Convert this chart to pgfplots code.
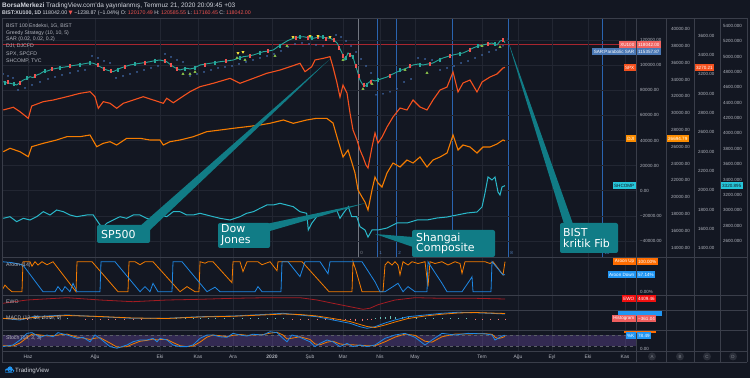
\documentclass[border=0pt]{standalone}
\usepackage{pgfplots}
\pgfplotsset{compat=1.18}
\usepackage{fontspec}
\setmainfont{Liberation Sans}
\newfontfamily\dv{DejaVu Sans}
\newcommand\fs[1]{\fontsize{#1}{#1}\selectfont}
\definecolor{bg}{HTML}{131722}
\definecolor{gridc}{HTML}{222632}
\definecolor{sepc}{HTML}{3a3e4a}
\definecolor{lbl}{HTML}{b2b5be}
\definecolor{txt}{HTML}{d1d4dc}
\definecolor{upc}{HTML}{26a69a}
\definecolor{dnc}{HTML}{ef5350}
\definecolor{sarc}{HTML}{4570b5}
\definecolor{spxc}{HTML}{f4511e}
\definecolor{djic}{HTML}{f57c00}
\definecolor{shc}{HTML}{2ab7c9}
\definecolor{aupc}{HTML}{f57c00}
\definecolor{adnc}{HTML}{1e88e5}
\definecolor{ewoc}{HTML}{a31c22}
\definecolor{bandc}{HTML}{7e57c2}
\definecolor{fibc}{HTML}{2a64b0}
\definecolor{callc}{HTML}{117c86}
\definecolor{pricel}{HTML}{a8262f}
\definecolor{yel}{HTML}{ffeb3b}
\definecolor{grn}{HTML}{8bc34a}
\definecolor{sartag}{HTML}{4a78b5}
\definecolor{djitag}{HTML}{fb8c00}
\definecolor{shtag}{HTML}{26c6da}
\definecolor{orgtag}{HTML}{ff6d00}
\definecolor{bluetag}{HTML}{2196f3}
\definecolor{ewotag}{HTML}{f01010}
\definecolor{histag}{HTML}{ef5e5e}
\definecolor{circc}{HTML}{2a2e39}
\pgfplotsset{
  panel/.style={scale only axis, anchor=south west, width=634bp,
    xmin=2, xmax=636, axis line style={draw=none}, major tick length=0pt,
    scaled y ticks=false, scaled x ticks=false,
    xtick={28,95,160,198,233,272,310,343,380,415,482,518,552,588,625},
    xticklabels={}, xmajorgrids, grid style={draw=gridc, line width=0.5bp},
    ytick=\empty, yticklabel pos=right,
    yticklabel style={font=\fs{4.5}, text=lbl, anchor=west, inner sep=0pt, xshift=4bp}},
  over/.style={scale only axis, anchor=south west, width=634bp,
    xmin=2, xmax=636, axis line style={draw=none}, major tick length=0pt,
    scaled y ticks=false, scaled x ticks=false,
    xtick=\empty, yticklabel pos=right,
    yticklabel style={font=\fs{4.5}, text=lbl, anchor=west, inner sep=0pt}},
}
\newcommand\ptag[6]{%
  \node[fill=#2,text=#3,font=\fs{4.6},inner xsep=1.5bp,inner ysep=0bp,minimum height=7bp,anchor=east] at (636,#1) {#4};
  \node[fill=#2,text=#3,font=\fs{4.6},inner xsep=1.5bp,inner ysep=0bp,minimum height=7bp,anchor=west] at (#5,#1) {#6};}
\begin{document}
\begin{tikzpicture}
\fill[bg] (0,0) rectangle (750bp,378bp);
\begin{scope}[x=1bp,y=-1bp,shift={(0,378bp)}]
  \draw[draw=lbl!60!bg, line width=0.6bp] (358,18) -- (358,257);
  \foreach \xx in {377,396,415,452,508,602} \draw[draw=fibc, line width=0.6bp] (\xx,18) -- (\xx,257);
  \draw[draw=pricel, line width=0.5bp] (2,44) -- (636,44);
\end{scope}

\begin{axis}[panel, at={(2bp,121bp)}, height=239bp, ymin=-52828, ymax=137607,
  ytick={-40000,-20000,0,20000,40000,60000,80000,100000,120000},
  yticklabels={−40000.00,−20000.00,0.00,20000.00,40000.00,60000.00,80000.00,100000.00,120000.00},
  ymajorgrids]
\addplot[sarc, only marks, mark=*, mark size=0.5bp] coordinates {
(3,92986)(8,91392)(13,89799)(18,80238)(25,81831)(32,84222)(40,86612)(48,89002)(55,90596)(62,92190)(70,93783)(78,95377)(85,96174)
(92,107328)(98,105735)(104,103344)(110,101751)
(116,89799)(123,91392)(130,92986)(137,94580)(144,96174)(151,97767)(158,99361)
(165,108923)(171,106532)(177,104142)(183,102548)
(190,91392)(197,92986)(204,94580)(211,96174)(218,97767)(225,98564)(232,99361)(239,100955)(246,102548)(253,104142)(260,105735)(267,107328)(274,108923)(281,111313)(288,114500)(295,116891)(302,117687)(309,116891)(316,116094)(323,115297)
(336,124060)(341,122467)(346,119281)(351,115297)(356,110516)(361,104939)(366,99361)(371,93783)
(376,76336)(383,77133)(390,78727)(397,81117)(404,86612)(411,89002)
(418,105735)(425,104939)(432,104142)
(440,96174)(447,97767)(454,99361)(461,101751)(468,103344)(475,105735)(482,108126)(489,110516)(496,112110)(503,115357)};
\addplot[upc, line width=0.9bp] coordinates {
(3,86850)(7,85900)(10,85580)(14,84900)(16.7,84220)(20,86200)(23.3,88210)(27,89300)(30,90840)(33,90100)(36.7,92190)(40,93100)(43.3,94820)(47,95300)(50,96170)(53,96900)(56.7,97530)(62,98200)(66.7,98800)(72,99600)(76.7,100160)(82,100800)(86.7,101510)(90,101900)(93.3,101510)(97,100300)(100,98800)(103,97600)(106.7,96170)(110,95400)(113.3,94820)(117,96300)(120,97530)(125,98900)(130,100160)(135,100900)(140,101510)(145,102100)(150,102790)(155,103600)(160,104140)(163,103600)(166.7,102790)(170,100700)(173.3,98800)(177,97200)(180,96170)(183,96900)(186.7,97530)(190,97000)(193.3,97530)(197,98900)(200,100160)(205,100900)(210,101510)(215,102100)(220,102790)(226,103300)(233.3,104140)(238,105400)(243.3,106770)(248,107300)(253.3,108130)(258,109400)(263.3,110760)(268,111200)(273.3,112110)(278,114800)(283.3,117450)(288,119700)(293.3,121430)(298,122300)(303.3,122710)(308,122000)(313.3,121430)(317,122100)(320,122710)(325,122000)(330,121430)(334,120100)(337,117690)(340,113000)(342,109720)(345,104140)(348,109720)(350,108600)(353,106530)(355,101000)(357,96170)(360,88210)(363,84220)(366,83430)(368,85820)(370,86900)(372,88210)(375,87400)(378,88210)(382,89300)(387,90600)(392,92700)(397,94580)(402,96300)(407,97770)(410,99000)(413,100160)(418,100900)(423,100160)(428,101000)(433,101750)(438,103900)(443,105740)(448,107000)(453,108130)(458,109000)(463,109720)(468,111500)(473,113700)(478,115200)(483,116090)(488,117100)(492,117690)(497,116090)(500,119280)(503,120000)(505,118042)};
\addplot[dnc, only marks, mark=|, mark size=2bp, line width=1.1bp] coordinates {
(8,86500)(20,86000)(35,91500)(52,96800)(70,99200)(98,100000)(104,97000)(111,95500)(125,98500)(145,102000)(165,103500)(171,100500)(177,97200)(205,100500)(226,103000)(250,107500)(268,111000)(296,121500)(308,122000)(318,122200)(326,121000)(334,119800)(339,114000)(343,107000)(350,108500)(356,99000)(359,91000)(364,84500)(371,87000)(390,91500)(410,99000)(430,101200)(450,107500)(470,112500)(488,117000)(503,120000)};
\addplot[upc, only marks, mark=|, mark size=2bp, line width=1.1bp] coordinates {
(5,86000)(14,85000)(27,89500)(45,95200)(60,98000)(80,100500)(90,101800)(118,96500)(135,100800)(155,103500)(185,97000)(195,97800)(215,102000)(240,106000)(260,110000)(280,115500)(300,122500)(312,121800)(323,122400)(346,106000)(353,106500)(367,84000)(378,88500)(400,95800)(420,100500)(440,104500)(460,109200)(478,115000)(495,116800)};
\addplot[yel, only marks, mark=triangle*, mark size=1.3bp, mark options={rotate=180}] coordinates {
(238,109720)(243,110520)(293,122470)(310,123270)(318,123270)(330,122470)};
\addplot[grn, only marks, mark=triangle*, mark size=1.3bp] coordinates {
(183,92990)(190,92990)(195,94580)(237,105740)(245,104140)(275,107330)(287,115300)(343,104140)(363,81030)(372,85020)(405,96170)(427,93780)(482,115300)(500,114500)};
\end{axis}

\begin{axis}[over, at={(2bp,121bp)}, height=239bp, ymin=12891, ymax=41308,
  ytick={14000,16000,18000,20000,22000,24000,26000,28000,30000,32000,34000,36000,38000,40000},
  yticklabels={14000.00,16000.00,18000.00,20000.00,22000.00,24000.00,26000.00,28000.00,30000.00,32000.00,34000.00,36000.00,38000.00,40000.00},
  yticklabel style={xshift=35bp}]
\addplot[djic, line width=1.1bp] coordinates {
(3.3,25411)(10,25815)(20,25411)(28.3,24816)(31.7,26005)(43.3,26410)(56.7,26802)(66.7,27195)(80,27195)(90,27397)(96.7,26005)(103.3,26410)(110,26600)(116.7,26208)(126.7,27004)(140,27004)(150,26802)(160,26802)(163.3,26208)(170,26600)(180,26802)(193.3,27195)(206.7,27789)(220,27987)(233.3,28193)(246.7,28383)(260,28586)(270,28788)(283.3,29180)(293.3,28788)(306.7,29180)(316.7,29382)(326.7,29382)(333,28823)(337,27159)(340,25970)(343,24781)(348,25613)(352,24067)(355,22878)(358,20857)(362,20024)(365,19430)(368,18479)(372,20857)(375,22403)(378,21689)(382,21214)(387,22878)(393,24067)(400,23592)(407,24424)(413,24067)(420,24781)(427,23592)(433,24424)(440,24781)(447,25256)(453,27397)(458,25613)(463,26208)(470,25970)(477,25256)(483,25970)(490,25970)(497,26327)(503,26802)(505,26695)};
\end{axis}

\begin{axis}[over, at={(2bp,121bp)}, height=239bp, ymin=1310, ymax=3781,
  ytick={1400,1600,1800,2000,2200,2400,2600,2800,3000,3200,3400,3600},
  yticklabels={1400.00,1600.00,1800.00,2000.00,2200.00,2400.00,2600.00,2800.00,3000.00,3200.00,3400.00,3600.00},
  yticklabel style={xshift=62bp}]
\addplot[spxc, line width=1.1bp] coordinates {
(3.3,2830)(13.3,2858)(20,2812)(28.3,2744)(31.7,2871)(43.3,2916)(53.3,2933)(66.7,2967)(80,3002)(90,3019)(95,2967)(98.3,2847)(103.3,2916)(110,2899)(116.7,2847)(123.3,2899)(133.3,2933)(143.3,2967)(153.3,2933)(163.3,2899)(166.7,2951)(173.3,2905)(180,2951)(190,3019)(200,3071)(213.3,3106)(230,3157)(240,3106)(253.3,3157)(266.7,3209)(280,3243)(290,3277)(300,3313)(305,3226)(311.7,3277)(315,3347)(323.3,3364)(330,3381)(333,3274)(337,3109)(340,2964)(343,3088)(347,3005)(350,2799)(353,2623)(357,2519)(360,2416)(363,2344)(366,2261)(368,2230)(372,2447)(375,2592)(378,2488)(382,2550)(387,2654)(393,2757)(400,2850)(407,2830)(413,2933)(420,2861)(427,2830)(433,2933)(440,3036)(447,3067)(453,3223)(458,3016)(463,3109)(470,3140)(477,3016)(482,3119)(490,3171)(497,3202)(503,3264)(505,3270)};
\end{axis}

\begin{axis}[over, at={(2bp,121bp)}, height=239bp, ymin=2393, ymax=5500,
  ytick={2600,2800,3000,3200,3400,3600,3800,4000,4200,4400,4600,4800,5000,5200,5400},
  yticklabels={2600.000,2800.000,3000.000,3200.000,3400.000,3600.000,3800.000,4000.000,4200.000,4400.000,4600.000,4800.000,5000.000,5200.000,5400.000},
  yticklabel style={xshift=87bp}]
\addplot[shc, line width=1bp] coordinates {
(3.3,2896)(10,2917)(16.7,2852)(23.3,2896)(30,2874)(36.7,2917)(43.3,2982)(50,2939)(56.7,3004)(63.3,2982)(70,2939)(76.7,2917)(86.7,2939)(93.3,2939)(100,2809)(103.3,2787)(106.7,2831)(113.3,2874)(120,2917)(126.7,2896)(133.3,2939)(140,2939)(146.7,2896)(153.3,2874)(160,2939)(166.7,2917)(173.3,2982)(180,2982)(186.7,2939)(193.3,2939)(200,2961)(206.7,2939)(213.3,2917)(220,2896)(230,2874)(240,2917)(246.7,2961)(253.3,2982)(260,3026)(266.7,3069)(273.3,3069)(280,3091)(286.7,3069)(293.3,3047)(300,2982)(306.7,2961)(308.3,2744)(311.7,2831)(316.7,2917)(323.3,2961)(330,2982)(336.7,3004)(340,2896)(343.3,2961)(348.3,3047)(351.7,2917)(356.7,2917)(360,2787)(365,2744)(368,2651)(372,2744)(378,2744)(387,2770)(397,2835)(407,2835)(417,2874)(427,2874)(437,2900)(447,2913)(457,2939)(467,2965)(477,2978)(482,3043)(485,3225)(488,3433)(492,3394)(495,3433)(498,3238)(500,3199)(502,3303)(505,3321)};
\end{axis}

\begin{axis}[panel, at={(2bp,83bp)}, height=38bp, ymin=-11, ymax=115.7,
  ytick={0}, yticklabels={0.00\%}]
\addplot[aupc, line width=0.8bp] coordinates {
(2,5)(5,22)(8,11)(12,0)(22,0)(23,100)(30,100)(32,85)(35,100)(38,89)(42,100)(47,90)(53,100)(76,0)(77,100)(92,100)(118,0)(128,0)(129,100)(135,100)(140,90)(145,100)(153,100)(180,0)(187,17)(195,0)(199,0)(200,100)(205,95)(208,100)(213,100)(232,30)(233,100)(240,100)(243,67)(247,100)(258,100)(262,90)(270,100)(277,70)(278,100)(290,100)(302,100)(329,0)(352,0)(353,100)(356,70)(362,0)(383,0)(385,89)(388,100)(392,89)(395,100)(398,89)(400,56)(403,100)(408,89)(412,100)(418,94)(425,100)(428,17)(430,100)(435,94)(442,100)(448,89)(455,100)(460,94)(462,61)(465,100)(475,100)(485,100)(490,94)(493,100)(498,78)(503,56)(505,100)};
\addplot[adnc, line width=0.8bp] coordinates {
(2,100)(12,97)(23,89)(43,0)(55,0)(58,17)(62,0)(65,17)(70,0)(73,28)(77,0)(100,0)(101,100)(115,100)(140,0)(145,17)(150,0)(153,28)(158,0)(172,0)(173,100)(182,100)(207,0)(215,15)(220,0)(255,0)(258,17)(262,0)(281,0)(282,100)(288,100)(300,50)(305,100)(320,100)(328,60)(330,100)(362,100)(375,33)(380,0)(385,0)(393,17)(398,28)(403,0)(408,17)(415,0)(427,0)(428,100)(430,89)(442,28)(447,0)(462,0)(470,39)(472,50)(473,0)(491,0)(492,100)(503,56)(505,57)};
\end{axis}

\begin{axis}[panel, at={(2bp,68bp)}, height=15bp, ymin=-17591, ymax=12409]
\addplot[ewoc, line width=0.8bp] coordinates {
(3,-4191)(27,2409)(67,7009)(100,2409)(133,-991)(167,2409)(200,3809)(233,5809)(267,7009)(300,7009)(317,2409)(333,-4191)(350,-10991)(363,-16191)(370,-14000)(378,-7000)(385,-2991)(395,2409)(415,7009)(442,5809)(475,5809)(505,4409)};
\end{axis}

\begin{axis}[panel, at={(2bp,48bp)}, height=20bp, ymin=-8050, ymax=5950]
\addplot[upc!70!white, ycomb, line width=0.8bp] coordinates {
(5,140)(35,500)(42,600)(50,500)(58,420)(67,350)(150,50)(158,90)(167,140)(176,220)(185,300)(193,260)(200,210)(208,240)(215,250)(224,230)(233,210)(242,260)(250,300)(258,320)(267,350)(275,420)(283,490)(375,560)(380,1000)(385,1400)(390,1450)(395,1400)(402,1330)(408,1260)(416,1000)(425,700)(433,660)(442,630)(450,560)(458,490)(466,300)};
\addplot[dnc!80!white, ycomb, line width=0.8bp] coordinates {
(12,-400)(20,-700)(27,-300)(85,-300)(92,-220)(100,-140)(108,-250)(115,-300)(124,-260)(133,-210)(141,-100)(292,-200)(300,-350)(308,-420)(317,-490)(325,-800)(333,-1050)(340,-1080)(345,-1100)(350,-1250)(355,-1400)(362,-1500)(367,-1260)(371,-600)(475,-140)(482,-180)(490,-210)(498,-300)(505,-361)};
\addplot[adnc, line width=0.8bp] coordinates {
(3,140)(20,-1050)(33,1260)(67,2450)(100,1260)(133,140)(167,140)(200,1260)(233,1750)(267,2940)(283,3640)(300,2450)(317,1260)(333,-1050)(350,-3360)(360,-5740)(367,-6860)(375,-5740)(385,-3150)(395,-1050)(408,1260)(425,2450)(442,3640)(458,4340)(475,4060)(490,3640)(505,3150)};
\addplot[aupc, line width=0.8bp] coordinates {
(3,0)(20,-350)(33,700)(67,2100)(100,1400)(133,350)(167,0)(200,1050)(233,1540)(267,2590)(283,3150)(300,2800)(317,1750)(333,0)(350,-2100)(360,-4200)(367,-5600)(375,-6300)(385,-4550)(395,-2450)(408,0)(425,1750)(442,3010)(458,3850)(475,4200)(490,3850)(505,3500)};
\end{axis}

\begin{axis}[panel, at={(2bp,27bp)}, height=21bp, ymin=-9.5, ymax=107.8,
  ytick={0}, yticklabels={0.00},
  xticklabels={Haz,Ağu,Eki,Kas,Ara,\textbf{2020},Şub,Mar,Nis,May,Tem,Ağu,Eyl,Eki,Kas},
  xticklabel style={font=\fs{5}, text=lbl, yshift=-0.5bp}]
\fill[bandc, fill opacity=0.3] (axis cs:2,20) rectangle (axis cs:636,80);
\draw[draw=lbl!45!bg, dashed, line width=0.4bp] (axis cs:2,20) -- (axis cs:636,20);
\draw[draw=lbl!45!bg, dashed, line width=0.4bp] (axis cs:2,80) -- (axis cs:636,80);
\addplot[aupc, line width=0.8bp] coordinates {
(3,20)(13,18)(20,35)(27,65)(32,85)(40,80)(47,75)(53,75)(58,80)(67,85)(77,68)(83,63)(90,55)(95,62)(100,65)(110,35)(117,12)(127,15)(133,30)(140,45)(147,50)(153,57)(157,52)(160,55)(167,55)(173,38)(180,20)(187,15)(193,18)(200,40)(207,68)(213,80)(220,76)(227,70)(233,78)(240,83)(247,78)(253,80)(263,82)(270,90)(277,95)(283,80)(287,58)(292,62)(300,70)(310,55)(315,30)(320,25)(327,40)(333,45)(340,30)(347,25)(353,25)(360,22)(367,20)(375,20)(385,42)(395,68)(405,85)(415,78)(425,45)(432,40)(442,70)(455,85)(468,86)(485,87)(492,84)(495,68)(498,60)(502,65)(505,72)};
\addplot[adnc, line width=0.8bp] coordinates {
(3,15)(13,24)(20,52)(27,89)(32,93)(40,67)(47,80)(53,70)(58,93)(67,80)(77,61)(83,67)(90,42)(95,80)(100,61)(110,15)(117,6)(127,24)(133,42)(140,52)(147,52)(153,61)(157,42)(160,61)(167,52)(173,24)(180,15)(187,15)(193,24)(200,61)(207,80)(213,80)(220,70)(227,67)(233,89)(240,80)(247,74)(253,84)(263,80)(270,98)(277,93)(283,61)(287,42)(292,80)(300,67)(310,42)(315,15)(320,33)(327,52)(333,42)(340,15)(347,33)(353,15)(360,24)(367,15)(375,24)(385,61)(395,80)(405,89)(415,67)(425,24)(432,52)(442,89)(455,80)(468,89)(485,86)(492,80)(495,52)(498,61)(502,74)(505,78.5)};
\end{axis}

\begin{scope}[x=1bp,y=-1bp,shift={(0,378bp)}]
  \foreach \yy in {18,257,295,310,330,351,362} \draw[draw=sepc, line width=0.6bp] (2,\yy) -- (747,\yy);
  \foreach \xx in {2,636,666,694,720,747} \draw[draw=sepc, line width=0.6bp] (\xx,18) -- (\xx,362);
  \node[anchor=west, font=\fs{6.5}, text=txt, inner sep=0] at (2,5.5) {\textbf{BorsaMerkezi} TradingView.com'da yayınlanmış, Temmuz 21, 2020 20:09:45 +03};
  \node[anchor=west, font=\fs{5.3}, text=txt, inner sep=0] at (2,13.5) {\textbf{BIST:XU100, 1D} 118042.00 \textcolor{dnc}{\dv ▼} −1238.87 (−1.04\%) O: \textcolor{dnc}{120170.49} H: \textcolor{dnc}{120585.55} L: \textcolor{dnc}{117160.45} C: \textcolor{dnc}{118042.00}};
  \begin{scope}[every node/.style={anchor=west, font=\fs{5.2}, text=lbl, inner sep=0}]
  \node at (6,25.5) {BIST 100 Endeksi, 1G, BIST};
  \node at (6,32.8) {Greedy Strategy (10, 10, 5)};
  \node at (6,39.4) {SAR (0.02, 0.02, 0.2)};
  \node at (6,46.5) {DJI, DJCFD};
  \node at (6,54) {SPX, SPCFD};
  \node at (6,61) {SHCOMP, TVC};
  \node at (6,265) {Aroon (14)};
  \node at (6,302) {EWO};
  \node at (6,318) {MACD (12, 26, close, 9)};
  \node at (6,337.7) {Stoch (14, 3, 3)};
  \end{scope}
  \node[font=\fs{4.5}, text=lbl!70!bg, inner sep=0] at (361.5,253) {0};
  \node[font=\fs{4.5}, text=fibc!80!white, inner sep=0] at (380.5,253) {1};
  \node[font=\fs{4.5}, text=fibc!80!white, inner sep=0] at (399.5,253) {2};
  \node[font=\fs{4.5}, text=fibc!80!white, inner sep=0] at (511.5,253) {8};
  \node[font=\fs{4.5}, text=fibc!80!white, inner sep=0] at (607,253) {13};
  \ptag{44.5}{dnc!90!white}{white}{XU100}{636.5}{118042.00}
  \ptag{52}{sartag}{white}{SAR:Parabolic SAR}{636.5}{115357.87}
  \ptag{68}{spxc}{white}{SPX}{694.5}{3270.21}
  \ptag{138.5}{djitag}{white}{DJI}{666.5}{26694.79}
  \ptag{185.5}{shtag}{bg}{SHCOMP}{720.5}{3320.895}
  \ptag{261.5}{orgtag}{white}{Aroon Up}{636.5}{100.00\%}
  \ptag{275}{bluetag}{white}{Aroon Down}{636.5}{57.14\%}
  \ptag{299}{ewotag}{white}{EWO}{636.5}{4409.46}
  \fill[bluetag] (618,311) rectangle (662,316);
  \ptag{318.5}{histag}{white}{Histogram}{636.5}{−361.04}
  \fill[orgtag] (624,331.3) rectangle (656,333);
  \ptag{335.5}{bluetag}{white}{\%K}{636.5}{78.49}
  \foreach \xx/\ll in {652/A,680/B,707/C,733/D} {
    \fill[circc] (\xx,356.5) circle (4);
    \node[font=\fs{4.5}, text=lbl!70!bg, inner sep=0] at (\xx,356.5) {\ll};}
  \fill[bluetag] (7,370.5) circle (2) (10,369) circle (2.6) (12.5,370.8) circle (1.8) (5.5,370.5) rectangle (13,372.6);
  \node[anchor=west, font=\fs{6.2}, text=txt, inner sep=0] at (15,370.5) {TradingView};
  \begin{scope}[every node/.style={text=white, font=\dv\fs{11}, anchor=west, align=left, inner sep=0}]
  \fill[callc] (330,59) -- (139,227) -- (149,231) -- cycle;
  \fill[callc, rounded corners=2bp] (97,225) rectangle (150,243);
  \node at (101,234.5) {SP500};
  \fill[callc] (366,203) -- (266,224) -- (270,231) -- cycle;
  \fill[callc, rounded corners=2bp] (218,223) rectangle (270,248);
  \node at (221,235.5) {Dow\\Jones};
  \fill[callc] (375,234) -- (413,237) -- (413,247) -- cycle;
  \fill[callc, rounded corners=2bp] (412,230) rectangle (495,257);
  \node at (416,243.5) {Shangai\\Composite};
  \fill[callc] (507,38) -- (564,224) -- (573,224) -- cycle;
  \fill[callc, rounded corners=2bp] (560,223) rectangle (618,253);
  \node at (563,238) {BIST\\kritik Fib};
  \end{scope}
\end{scope}
\end{tikzpicture}
\end{document}
